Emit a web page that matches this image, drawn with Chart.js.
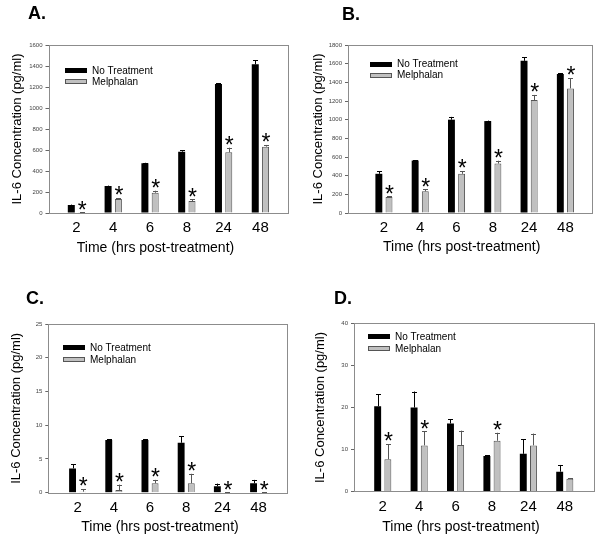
<!DOCTYPE html>
<html>
<head>
<meta charset="utf-8">
<script src="https://cdn.jsdelivr.net/npm/chart.js@4.4.1/dist/chart.umd.min.js"></script>
<style>
  body { margin: 0; background: #fff; }
  #wrap { position: relative; width: 600px; height: 542px; }
  canvas { position: absolute; }
</style>
</head>
<body>
<div id="wrap">
  <canvas id="chartA" width="300" height="271" style="left:0;top:0"></canvas>
  <canvas id="chartB" width="300" height="271" style="left:300px;top:0"></canvas>
  <canvas id="chartC" width="300" height="271" style="left:0;top:271px"></canvas>
  <canvas id="chartD" width="300" height="271" style="left:300px;top:271px"></canvas>
</div>
<script>
// hours after treatment
const timeLabels = ["2", "4", "6", "8", "24", "48"];
const seriesNames = ["No Treatment", "Melphalan"];

// panel A
const noTreatA = [76, 257, 473, 584, 1229, 1416];
const noTreatErrA = [4, 4, 5, 16, 5, 41];
const melphA = [3, 133, 193, 114, 578, 632];
const melphErrA = [2, 10, 19, 16, 44, 16];
const sigA = [true, true, true, true, true, true];

// panel B
const noTreatB = [420, 562, 1000, 985, 1630, 1490];
const noTreatErrB = [25, 5, 30, 5, 40, 5];
const melphB = [172, 232, 420, 530, 1210, 1335];
const melphErrB = [8, 20, 30, 30, 55, 110];
const sigB = [true, true, true, true, true, true];

// panel C
const noTreatC = [3.6, 7.8, 7.8, 7.4, 0.95, 1.4];
const noTreatErrC = [0.6, 0.1, 0.1, 1.0, 0.4, 0.5];
const melphC = [0.15, 0.4, 1.4, 1.4, 0.05, 0.05];
const melphErrC = [0.4, 0.8, 0.5, 1.4, 0.02, 0.02];
const sigC = [true, true, true, true, true, true];

// panel D
const noTreatD = [20.3, 20.0, 16.2, 8.5, 9.0, 4.75];
const noTreatErrD = [2.8, 3.8, 1.0, 0.2, 3.4, 1.6];
const melphD = [7.7, 11.0, 11.1, 12.1, 11.0, 3.1];
const melphErrD = [3.6, 3.3, 3.4, 1.9, 2.8, 0.1];
const sigD = [true, true, false, true, false, false];

const FONT = "'Liberation Sans', Arial, Helvetica, sans-serif";
const GREY = "#c0c0c0";
const STAR = 23;

function makePanel(id, p) {
    let extras = {
        id: "extras",
        afterDatasetsDraw(chart) {
            let c = chart.ctx;
            let ys = chart.scales.y;
            let errs = [p.err0, p.err1];
            let vals = [p.v0, p.v1];
            c.save();
            for (let d = 0; d < 2; d++) {
                let meta = chart.getDatasetMeta(d);
                c.strokeStyle = d === 0 ? "#000" : "#555";
                c.lineWidth = 1;
                meta.data.forEach(function (bar, i) {
                    let x = Math.round(bar.x) + 0.5;
                    let top = ys.getPixelForValue(vals[d][i] + errs[d][i]);
                    c.beginPath();
                    c.moveTo(x, bar.y);
                    c.lineTo(x, top);
                    c.moveTo(x - 2.5, Math.round(top) + 0.5);
                    c.lineTo(x + 2.5, Math.round(top) + 0.5);
                    c.stroke();
                    if (d === 1 && p.sig[i]) {
                        c.fillStyle = "#000";
                        c.font = STAR + "px " + FONT;
                        c.textAlign = "center";
                        c.textBaseline = "alphabetic";
                        c.fillText("*", bar.x + 0.5, top - 8 + 0.58 * STAR);
                    }
                });
            }
            c.restore();
        },
        afterDraw(chart) {
            let c = chart.ctx;
            let a = chart.chartArea;
            c.save();
            // frame
            c.strokeStyle = "#8c8c8c";
            c.lineWidth = 1;
            c.strokeRect(Math.round(a.left) + 0.5, Math.round(a.top) + 0.5,
                Math.round(a.right - a.left) - 1, Math.round(a.bottom - a.top));
            // legend
            let lx = Math.round(a.left + p.legX);
            let rows = [a.top + p.legY, a.top + p.legY + p.legGap];
            c.font = "10px " + FONT;
            c.textBaseline = "middle";
            c.textAlign = "left";
            chart.data.datasets.forEach(function (ds, i) {
                let ry = Math.round(rows[i] - 2.5);
                c.fillStyle = ds.backgroundColor;
                c.fillRect(lx, ry, 22, 5);
                if (i === 1) {
                    c.strokeStyle = "#555";
                    c.strokeRect(lx + 0.5, ry + 0.5, 21, 4);
                }
                c.fillStyle = "#000";
                c.fillText(ds.label, lx + 27, rows[i] + 0.5);
            });
            // x title
            c.font = "14px " + FONT;
            c.textAlign = "center";
            c.fillText("Time (hrs post-treatment)", p.xTitleX, p.xTitleY);
            // panel letter
            c.font = "bold 18px " + FONT;
            c.textAlign = "left";
            c.textBaseline = "alphabetic";
            c.fillText(p.letter, p.letterX, p.letterY);
            c.restore();
        }
    };

    new Chart(document.getElementById(id).getContext("2d"), {
        type: "bar",
        data: {
            datasets: [{
                label: seriesNames[0],
                data: p.v0.map((v, i) => ({ x: i, y: v })),
                backgroundColor: "#000",
                borderWidth: 0
            }, {
                label: seriesNames[1],
                data: p.v1.map((v, i) => ({ x: i, y: v })),
                backgroundColor: GREY,
                borderColor: "#555",
                borderWidth: 1
            }]
        },
        options: {
            responsive: false,
            animation: false,
            categoryPercentage: 0.56,
            barPercentage: 0.68,
            layout: { padding: { top: p.top, right: p.rightPad, left: 0, bottom: 0 } },
            plugins: { legend: { display: false }, tooltip: { enabled: false } },
            scales: {
                x: {
                    type: "linear",
                    min: p.xMin,
                    max: p.xMax,
                    offset: false,
                    afterBuildTicks(scale) {
                        scale.ticks = timeLabels.map((_, i) => ({ value: i }));
                    },
                    ticks: {
                        autoSkip: false,
                        maxRotation: 0,
                        callback: (v) => timeLabels[v],
                        font: { family: FONT, size: 15 },
                        color: "#000",
                        padding: 6
                    },
                    grid: { display: false, drawTicks: false },
                    border: { display: false },
                    afterFit(scale) { scale.height = p.xH; }
                },
                y: {
                    min: 0,
                    max: p.yMax,
                    ticks: {
                        stepSize: p.yStep,
                        callback: (v) => String(v),
                        font: { family: FONT, size: 6 },
                        color: "#444",
                        padding: 3
                    },
                    grid: { drawOnChartArea: false, drawTicks: true, tickLength: 3, color: "#666" },
                    border: { display: false },
                    title: {
                        display: true,
                        text: "IL-6 Concentration (pg/ml)",
                        font: { family: FONT, size: 13 },
                        color: "#000",
                        padding: { top: p.yTitlePad, bottom: 0 }
                    },
                    afterFit(scale) { scale.width = p.left; }
                }
            }
        },
        plugins: [extras]
    });
}

makePanel("chartA", {
    v0: noTreatA, err0: noTreatErrA, v1: melphA, err1: melphErrA, sig: sigA,
    left: 48.5, top: 45, rightPad: 12, xH: 58, xMin: -0.76, xMax: 5.75,
    yMax: 1600, yStep: 200, yTitlePad: 9.7,
    legX: 16.5, legY: 25.8, legGap: 10.7,
    letter: "A.", letterX: 28, letterY: 19, xTitleX: 155.5, xTitleY: 248
});
makePanel("chartB", {
    v0: noTreatB, err0: noTreatErrB, v1: melphB, err1: melphErrB, sig: sigB,
    left: 48, top: 45, rightPad: 7, xH: 58, xMin: -0.99, xMax: 5.76,
    yMax: 1800, yStep: 200, yTitlePad: 10.7,
    legX: 22, legY: 19, legGap: 11,
    letter: "B.", letterX: 42, letterY: 19.5, xTitleX: 161.7, xTitleY: 247
});
makePanel("chartC", {
    v0: noTreatC, err0: noTreatErrC, v1: melphC, err1: melphErrC, sig: sigC,
    left: 48.3, top: 53, rightPad: 11.7, xH: 49.3, xMin: -0.81, xMax: 5.82,
    yMax: 25, yStep: 5, yTitlePad: 8.2,
    legX: 14.7, legY: 23.5, legGap: 12,
    letter: "C.", letterX: 26, letterY: 33, xTitleX: 160, xTitleY: 256
});
makePanel("chartD", {
    v0: noTreatD, err0: noTreatErrD, v1: melphD, err1: melphErrD, sig: sigD,
    left: 54, top: 52.3, rightPad: 5, xH: 50.3, xMin: -0.79, xMax: 5.83,
    yMax: 40, yStep: 10, yTitlePad: 12.2,
    legX: 14, legY: 13.2, legGap: 12,
    letter: "D.", letterX: 34, letterY: 33, xTitleX: 161, xTitleY: 256
});
</script>
</body>
</html>
